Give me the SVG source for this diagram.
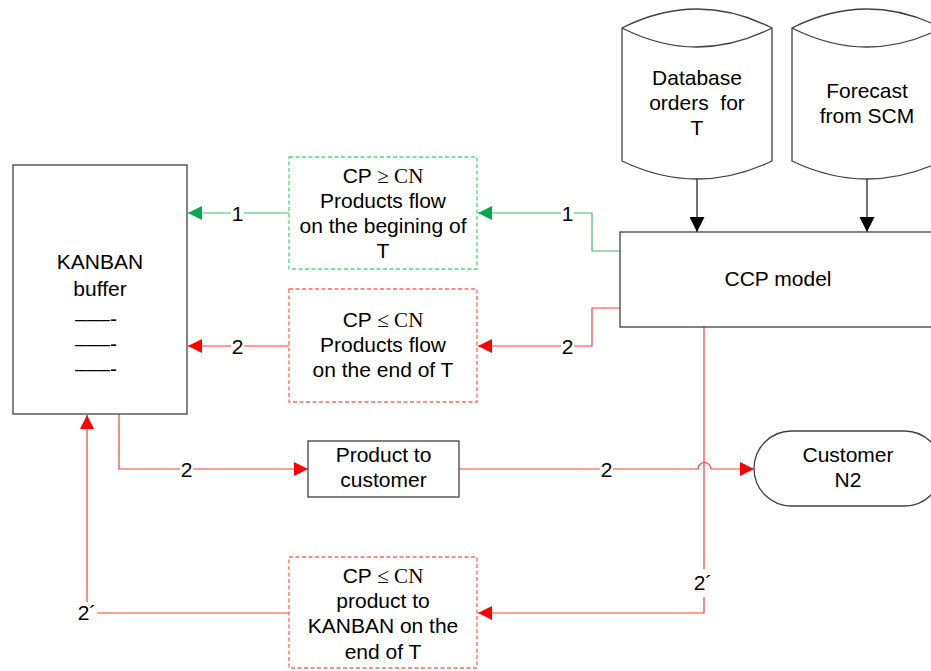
<svg xmlns="http://www.w3.org/2000/svg" width="931" height="671" viewBox="0 0 931 671">
  <style>
    .t { font-family: "Liberation Sans", Arial, sans-serif; font-size: 21px; fill: #000; text-anchor: middle; }
    .serif { font-family: "Liberation Serif", "Times New Roman", serif; }
    .box { fill: #fff; stroke: #404040; stroke-width: 1.3; }
    .gbox { fill: #fff; stroke: #5ccf85; stroke-width: 1.3; stroke-dasharray: 4 2.5; }
    .rbox { fill: #fff; stroke: #ff6666; stroke-width: 1.3; stroke-dasharray: 4 2.5; }
    .k { fill: none; stroke: #000; stroke-width: 1.1; }
    .g { fill: none; stroke: #3cb96a; stroke-width: 1.2; }
    .r { fill: none; stroke: #ff3b3b; stroke-width: 1.2; }
    .lbl { fill: #fff; stroke: none; }
  </style>
  <defs>
    <marker id="ak" markerUnits="userSpaceOnUse" markerWidth="15" markerHeight="15" viewBox="0 0 14 14" refX="14" refY="7" orient="auto">
      <path d="M0,0 L14,7 L0,14 z" fill="#000"/>
    </marker>
    <marker id="ag" markerUnits="userSpaceOnUse" markerWidth="14" markerHeight="14" viewBox="0 0 14 14" refX="14" refY="7" orient="auto">
      <path d="M0,0 L14,7 L0,14 z" fill="#00a650"/>
    </marker>
    <marker id="ar" markerUnits="userSpaceOnUse" markerWidth="14" markerHeight="14" viewBox="0 0 14 14" refX="14" refY="7" orient="auto">
      <path d="M0,0 L14,7 L0,14 z" fill="#ff0000"/>
    </marker>
  </defs>

  <rect width="931" height="671" fill="#fff"/>

  <!-- connectors -->
  <g id="connectors">
    <!-- data stores into the CCP model -->
    <line class="k" x1="697" y1="179" x2="697" y2="232" marker-end="url(#ak)"/>
    <line class="k" x1="867" y1="179" x2="867" y2="232" marker-end="url(#ak)"/>

    <!-- flow 1 (green) -->
    <polyline class="g" points="620,251 592,251 592,213 478,213" marker-end="url(#ag)"/>
    <line class="g" x1="289" y1="213" x2="188" y2="213" marker-end="url(#ag)"/>

    <!-- flow 2 (red) -->
    <polyline class="r" points="620,308 592,308 592,346 478,346" marker-end="url(#ar)"/>
    <line class="r" x1="289" y1="346" x2="188" y2="346" marker-end="url(#ar)"/>

    <!-- KANBAN to product to customer -->
    <polyline class="r" points="119,414 119,469 308,469" marker-end="url(#ar)"/>
    <path class="r" d="M459,469 L698,469 A6.5,6.5 0 0 1 711,469 L754,469" marker-end="url(#ar)"/>

    <!-- flow 2' back to KANBAN -->
    <polyline class="r" points="704,327 704,613 478,613" marker-end="url(#ar)"/>
    <polyline class="r" points="289,613 87,613 87,415" marker-end="url(#ar)"/>

    <!-- connector labels -->
    <g id="label-1a"><rect class="lbl" x="231" y="203" width="13" height="20"/><text class="t" x="237.5" y="220.5">1</text></g>
    <g id="label-1b"><rect class="lbl" x="561" y="203" width="13" height="20"/><text class="t" x="567.5" y="220.5">1</text></g>
    <g id="label-2a"><rect class="lbl" x="231" y="336" width="13" height="20"/><text class="t" x="237.5" y="353.5">2</text></g>
    <g id="label-2b"><rect class="lbl" x="561" y="336" width="13" height="20"/><text class="t" x="567.5" y="353.5">2</text></g>
    <g id="label-2c"><rect class="lbl" x="180" y="459" width="13" height="20"/><text class="t" x="186.5" y="476.5">2</text></g>
    <g id="label-2d"><rect class="lbl" x="600" y="459" width="13" height="20"/><text class="t" x="606.5" y="476.5">2</text></g>
    <g id="label-2p-right"><rect class="lbl" x="692" y="569" width="20" height="28"/><text class="t" x="703" y="590">2´</text></g>
    <g id="label-2p-left"><rect class="lbl" x="76" y="602" width="21" height="22"/><text class="t" x="87" y="620">2´</text></g>
  </g>

  <!-- KANBAN buffer -->
  <g id="kanban">
    <rect class="box" x="13" y="165" width="174" height="249"/>
    <text class="t" x="100" y="269">KANBAN</text>
    <text class="t" x="100" y="296">buffer</text>
    <text class="t" x="96" y="326">–––-</text>
    <text class="t" x="96" y="351">–––-</text>
    <text class="t" x="96" y="376">–––-</text>
  </g>

  <!-- flow at beginning of T -->
  <g id="flow-begin">
    <rect class="gbox" x="289" y="157" width="188" height="112"/>
    <text class="t" x="383" y="183">CP <tspan class="serif">≥ CN</tspan></text>
    <text class="t" x="383" y="208">Products flow</text>
    <text class="t" x="383" y="233">on the begining of</text>
    <text class="t" x="383" y="258">T</text>
  </g>

  <!-- flow at end of T -->
  <g id="flow-end">
    <rect class="rbox" x="289" y="289" width="188" height="113"/>
    <text class="t" x="383" y="327">CP <tspan class="serif">≤  CN</tspan></text>
    <text class="t" x="383" y="352">Products flow</text>
    <text class="t" x="383" y="377">on the end of T</text>
  </g>

  <!-- product back to KANBAN -->
  <g id="to-kanban">
    <rect class="rbox" x="289" y="557" width="188" height="111"/>
    <text class="t" x="383" y="583">CP <tspan class="serif">≤ CN</tspan></text>
    <text class="t" x="383" y="608">product to</text>
    <text class="t" x="383" y="633">KANBAN on the</text>
    <text class="t" x="383" y="659">end of T</text>
  </g>

  <!-- product to customer -->
  <g id="product-to-customer">
    <rect class="box" x="308" y="441" width="151" height="56"/>
    <text class="t" x="383.5" y="462">Product to</text>
    <text class="t" x="383.5" y="487">customer</text>
  </g>

  <!-- CCP model -->
  <g id="ccp-model">
    <rect class="box" x="620" y="232" width="330" height="95"/>
    <text class="t" x="778" y="286">CCP model</text>
  </g>

  <!-- customer terminal -->
  <g id="customer">
    <rect class="box" x="754" y="431" width="188" height="75" rx="37.5" ry="37.5"/>
    <text class="t" x="848" y="462">Customer</text>
    <text class="t" x="848" y="487">N2</text>
  </g>

  <!-- order database -->
  <g id="database">
    <path class="box" d="M622,28 Q697,-10 772,28 L772,161 Q697,197 622,161 Z"/>
    <path class="k" style="stroke:#404040;stroke-width:1.3" d="M622,28 Q697,66 772,28"/>
    <text class="t" x="697" y="85">Database</text>
    <text class="t" x="697" y="110" xml:space="preserve">orders  for</text>
    <text class="t" x="697" y="135">T</text>
  </g>

  <!-- forecast store -->
  <g id="forecast">
    <path class="box" d="M792,28 Q867,-10 942,28 L942,161 Q867,197 792,161 Z"/>
    <path class="k" style="stroke:#404040;stroke-width:1.3" d="M792,28 Q867,66 942,28"/>
    <text class="t" x="867" y="98">Forecast</text>
    <text class="t" x="867" y="123">from SCM</text>
  </g>
</svg>
